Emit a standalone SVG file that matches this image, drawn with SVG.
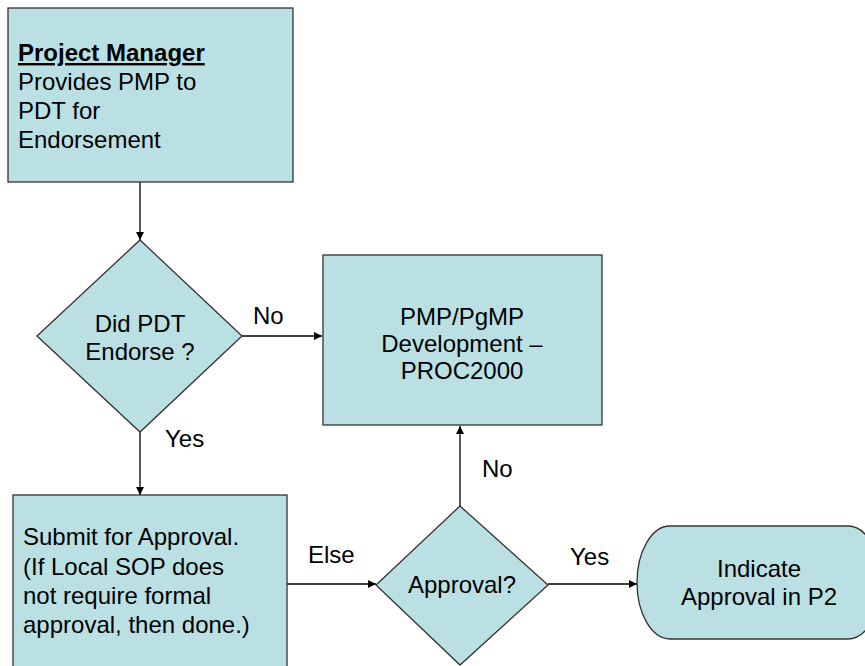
<svg xmlns="http://www.w3.org/2000/svg" width="865" height="666" viewBox="0 0 865 666">
<style>
.node{fill:#BBE0E3;stroke:#333333;stroke-width:1.3}
.t{font-family:"Liberation Sans",Arial,sans-serif;font-size:24px;fill:#000}
.c{text-anchor:middle}
.conn{stroke:#000;stroke-width:1.3;fill:none;marker-end:url(#ah)}
</style>
<defs>
<marker id="ah" viewBox="0 0 10 10" refX="10" refY="5" markerWidth="9" markerHeight="8" markerUnits="userSpaceOnUse" orient="auto">
<path d="M0,0 L10,5 L0,10 z" fill="#000"/>
</marker>
</defs>
<rect width="865" height="666" fill="#fff"/>
<g id="connectors">
<line class="conn" x1="140" y1="182" x2="140" y2="240"/>
<line class="conn" x1="242" y1="336" x2="322" y2="336"/>
<line class="conn" x1="140" y1="432" x2="140" y2="495"/>
<line class="conn" x1="287" y1="584" x2="376" y2="584"/>
<line class="conn" x1="548" y1="584" x2="637" y2="584"/>
<line class="conn" x1="460" y1="506" x2="460" y2="426"/>
<text class="t" x="253" y="324">No</text>
<text class="t" x="165" y="447">Yes</text>
<text class="t" x="308" y="563">Else</text>
<text class="t" x="570" y="565">Yes</text>
<text class="t" x="482" y="477">No</text>
</g>
<g id="pm">
<rect class="node" x="8" y="8" width="285" height="174"/>
<text class="t" x="18" y="61" font-weight="bold" text-decoration="underline">Project Manager</text>
<text class="t" x="18" y="90">Provides PMP to</text>
<text class="t" x="18" y="119">PDT for</text>
<text class="t" x="18" y="148">Endorsement</text>
</g>
<g id="endorse">
<polygon class="node" points="140,240 242,336 140,432 37,336"/>
<text class="t c" x="140" y="332">Did PDT</text>
<text class="t c" x="140" y="360">Endorse ?</text>
</g>
<g id="pmpdev">
<rect class="node" x="323" y="255" width="279" height="170"/>
<text class="t c" x="462" y="325">PMP/PgMP</text>
<text class="t c" x="462" y="352">Development –</text>
<text class="t c" x="462" y="379">PROC2000</text>
</g>
<g id="submit">
<rect class="node" x="13" y="495" width="274" height="180"/>
<text class="t" x="23" y="545">Submit for Approval.</text>
<text class="t" x="23" y="575">(If Local SOP does</text>
<text class="t" x="23" y="604">not require formal</text>
<text class="t" x="23" y="633">approval, then done.)</text>
</g>
<g id="approval">
<polygon class="node" points="460,506 548,585 460,665 376,585"/>
<text class="t c" x="462" y="593">Approval?</text>
</g>
<g id="indicate">
<path class="node" d="M670,526 H848 A33,56.5 0 0 1 848,639 H670 A33,56.5 0 0 1 670,526 Z"/>
<text class="t c" x="759" y="577">Indicate</text>
<text class="t c" x="759" y="605">Approval in P2</text>
</g>
</svg>
